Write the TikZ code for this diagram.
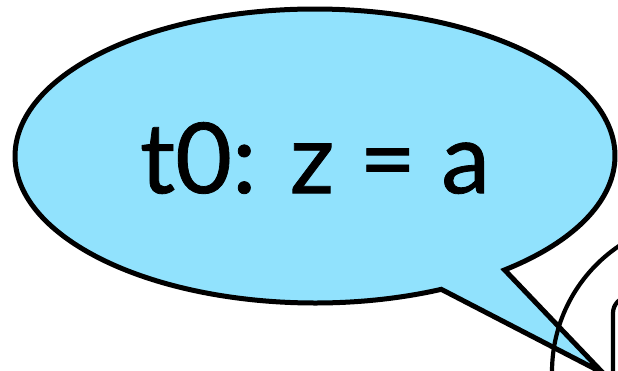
\documentclass[tikz,border=0pt]{standalone}
\usepackage{fontspec}
\setmainfont{Lato}
\newfontfamily\sayfont{Lato}[FakeBold=0.8]
\usepackage{tikz}
\usetikzlibrary{calc}
\definecolor{bubbleblue}{RGB}{145,226,253}

\begin{document}
\begin{tikzpicture}[x=1pt,y=1pt,
  bubble/.style={draw=black,fill=bubbleblue,line width=5pt,miter limit=20},
  saytext/.style={font=\sayfont\fontsize{98}{108}\selectfont,inner sep=0pt},
  outline/.style={draw=black,line width=4.2pt}
]
\useasboundingbox (0,0) rectangle (618,370);
\clip (0,0) rectangle (618,370);
\coordinate (c) at (315,214);
\coordinate (tip) at (603,-3);
% speech bubble with its tail
\path[bubble] (c) ++(-50.8:300 and 147)
  arc[start angle=-50.8,end angle=294.9,x radius=300,y radius=147]
  -- (tip) -- cycle;
\node[saytext] (say) at ($(c)+(0,-2)$) {t0: z = a};
% shapes peeking in at the lower right
\draw[outline] (704,-2) circle[radius=152];
\draw[outline,rounded corners=16pt] (613,-30) rectangle (720,73);
\end{tikzpicture}
\end{document}
